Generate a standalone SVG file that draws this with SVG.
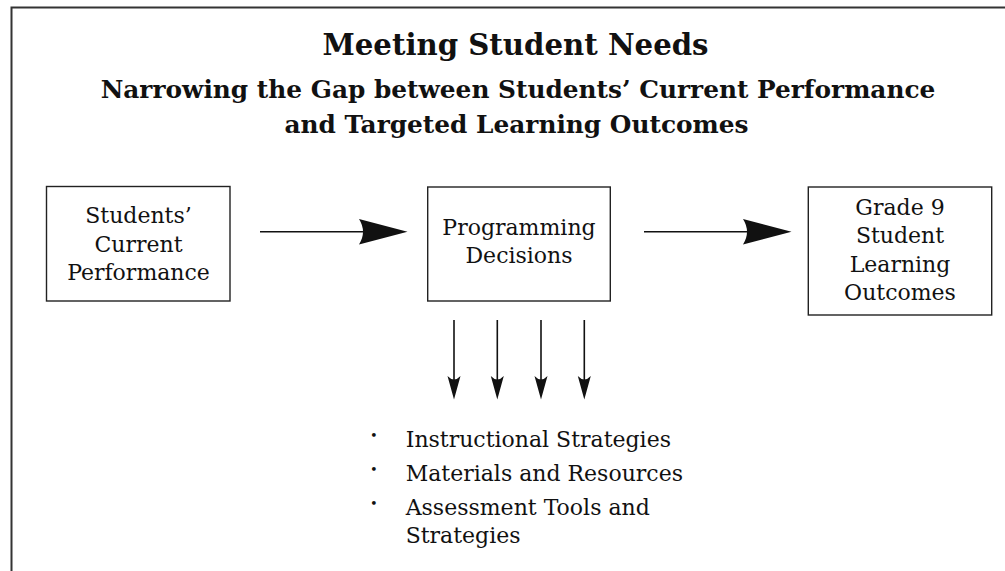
<svg xmlns="http://www.w3.org/2000/svg" width="1005" height="571" viewBox="0 0 1005 571">
<style>
.frame{fill:none;stroke:#333;stroke-width:2}
.box{fill:#fff;stroke:#222;stroke-width:1.4}
.t{font-family:"DejaVu Serif","Liberation Serif",serif;font-size:22px;fill:#111;text-anchor:middle}
.l{font-family:"DejaVu Serif","Liberation Serif",serif;font-size:22px;fill:#111}
.b{font-family:"DejaVu Serif","Liberation Serif",serif;font-size:13px;fill:#111}
.h1{font-family:"DejaVu Serif","Liberation Serif",serif;font-weight:bold;font-size:29.2px;fill:#111;text-anchor:middle}
.h2{font-family:"DejaVu Serif","Liberation Serif",serif;font-weight:bold;font-size:24.8px;fill:#111;text-anchor:middle}
.ln{stroke:#111;stroke-width:1.6;fill:none}
.hd{fill:#111}
</style>
<rect width="1005" height="571" fill="#fff"/>
<path class="frame" d="M11.5,571 V7.5 H1005"/>
<g id="title">
<text class="h1" x="515.5" y="55">Meeting Student Needs</text>
<text class="h2" x="518" y="98">Narrowing the Gap between Students’ Current Performance</text>
<text class="h2" x="516.5" y="133">and Targeted Learning Outcomes</text>
</g>
<g id="node-current">
<rect class="box" x="46.5" y="186.5" width="183.5" height="114.5"/>
<text class="t" x="138.5" y="222.7">Students’</text>
<text class="t" x="138.5" y="251.5">Current</text>
<text class="t" x="138.5" y="280">Performance</text>
</g>
<g id="node-programming">
<rect class="box" x="427.7" y="187" width="182.6" height="114"/>
<text class="t" x="519" y="235">Programming</text>
<text class="t" x="519" y="263">Decisions</text>
</g>
<g id="node-outcomes">
<rect class="box" x="808.3" y="187" width="183.4" height="128"/>
<text class="t" x="900" y="215">Grade 9</text>
<text class="t" x="900" y="243.3">Student</text>
<text class="t" x="900" y="271.7">Learning</text>
<text class="t" x="900" y="300">Outcomes</text>
</g>
<g id="connectors">
<line class="ln" x1="260" y1="231.7" x2="370" y2="231.7"/>
<path class="hd" d="M407.5,231.7 L359,219 Q367,231.7 359,244.5 Z"/>
<line class="ln" x1="644" y1="231.7" x2="755" y2="231.7"/>
<path class="hd" d="M791.5,231.7 L743,219 Q751,231.7 743,244.5 Z"/>
<line class="ln" x1="454" y1="320" x2="454" y2="385"/>
<path class="hd" d="M454,399.5 L447.5,376 Q454,383 460.5,376 Z"/>
<line class="ln" x1="497.3" y1="320" x2="497.3" y2="385"/>
<path class="hd" d="M497.3,399.5 L490.8,376 Q497.3,383 503.8,376 Z"/>
<line class="ln" x1="541" y1="320" x2="541" y2="385"/>
<path class="hd" d="M541,399.5 L534.5,376 Q541,383 547.5,376 Z"/>
<line class="ln" x1="584.3" y1="320" x2="584.3" y2="385"/>
<path class="hd" d="M584.3,399.5 L577.8,376 Q584.3,383 590.8,376 Z"/>
</g>
<g id="list">
<text class="b" x="370" y="439.5">•</text>
<text class="l" x="405.7" y="446.5">Instructional Strategies</text>
<text class="b" x="370" y="473.5">•</text>
<text class="l" x="405.7" y="480.5">Materials and Resources</text>
<text class="b" x="370" y="508">•</text>
<text class="l" x="405.7" y="514.5">Assessment Tools and</text>
<text class="l" x="405.7" y="542.7">Strategies</text>
</g>
</svg>
